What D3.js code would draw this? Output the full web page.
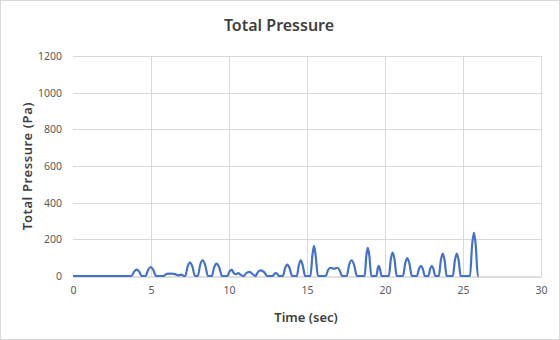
<!DOCTYPE html>
<html><head><meta charset="utf-8">
<script src="https://cdn.jsdelivr.net/npm/d3@7"></script>
<style>body{margin:0;background:#fff}svg{display:block}</style>
</head><body><svg id="c" width="560" height="340"></svg>
<script>
const timeSec = [0,3.75,3.92,4.08,4.24,4.4,4.65,4.82,4.98,5.14,5.32,5.8,6.0,6.3,6.55,6.75,6.95,7.1,7.2,7.35,7.5,7.65,7.82,8.0,8.15,8.31,8.47,8.65,8.9,9.05,9.21,9.37,9.55,9.9,10.03,10.17,10.32,10.45,10.6,10.75,10.95,11.1,11.3,11.5,11.7,11.85,12.05,12.25,12.45,12.8,12.9,13.0,13.1,13.2,13.45,13.6,13.74,13.88,14.05,14.35,14.48,14.6,14.72,14.88,15.22,15.35,15.45,15.55,15.7,16.2,16.35,16.5,16.75,16.95,17.1,17.25,17.55,17.7,17.86,18.02,18.2,18.7,18.8,18.9,19.0,19.12,19.45,19.53,19.6,19.67,19.78,20.25,20.37,20.49,20.61,20.75,21.15,21.3,21.43,21.56,21.72,22.05,22.18,22.3,22.42,22.55,22.78,22.9,23.0,23.1,23.22,23.45,23.58,23.7,23.82,23.95,24.35,24.48,24.6,24.72,24.85,25.45,25.58,25.7,25.82,25.95,26.0];
const pressure = [0,0,24,35,24,0,0,34,49,34,0,0,12,13,10,3,8,0,0,52,73,52,0,0,60,86,60,0,0,48,68,48,0,0,24,35,14,10,16,6,0,15,22,12,0,21,31,21,0,0,11,16,11,0,0,44,62,44,0,0,60,86,60,0,0,115,164,115,0,0,33,45,40,45,30,0,0,60,86,60,0,0,108,153,108,0,0,40,56,40,0,0,90,128,90,0,0,70,98,70,0,0,40,56,40,0,0,40,56,40,0,0,86,122,86,0,0,86,122,86,0,0,165,235,165,0,0];
const yTicks = [0,200,400,600,800,1000,1200];
const xTicks = [0,5,10,15,20,25,30];
const data = timeSec.map((t,i)=>({t,p:pressure[i]}));

const svg = d3.select('#c');
svg.append('rect').attr('x',0.5).attr('y',0.5).attr('width',559).attr('height',339).attr('fill','#fff').attr('stroke','#d9d9d9');
const x = d3.scaleLinear().domain([0,30]).range([73,541]);
const y = d3.scaleLinear().domain([0,1200]).range([276,56]);
const font = "'Noto Sans', sans-serif";

// grid
svg.append('g').selectAll('line').data(yTicks.slice(1)).join('line')
  .attr('x1',73).attr('x2',541).attr('y1',d=>Math.round(y(d))+0.5).attr('y2',d=>Math.round(y(d))+0.5).attr('stroke','#d9d9d9');
svg.append('g').selectAll('line').data(xTicks.slice(1)).join('line')
  .attr('y1',56).attr('y2',276).attr('x1',d=>Math.round(x(d))+0.5).attr('x2',d=>Math.round(x(d))+0.5).attr('stroke','#d9d9d9');

// axes
const xa = svg.append('g').attr('transform','translate(0,276.5)').call(d3.axisBottom(x).tickValues(xTicks).tickFormat(d3.format('d')).tickSize(0).tickPadding(10));
xa.select('.domain').attr('stroke','#bfbfbf');
xa.selectAll('text').attr('fill','#595959').style('font-family',font).style('font-size','10.5px');
const ya = svg.append('g').attr('transform','translate(73,0)').call(d3.axisLeft(y).tickValues(yTicks).tickFormat(d3.format('d')).tickSize(0).tickPadding(11));
ya.select('.domain').remove();
ya.selectAll('text').attr('fill','#595959').style('font-family',font).style('font-size','10.5px');

// line
svg.append('path').datum(data).attr('fill','none').attr('stroke','#4472C4').attr('stroke-width',2.2)
  .attr('stroke-linejoin','round')
  .attr('d',d3.line().x(d=>x(d.t)).y(d=>y(d.p)).curve(d3.curveMonotoneX));

// titles
svg.append('text').attr('x',279).attr('y',31).attr('text-anchor','middle').attr('fill','#404040')
  .style('font-family',font).style('font-size','16px').style('font-weight','600').text('Total Pressure');
svg.append('text').attr('x',306).attr('y',322).attr('text-anchor','middle').attr('fill','#404040')
  .style('font-family',font).style('font-size','13px').style('font-weight','600').text('Time (sec)');
svg.append('text').attr('transform','translate(32,166) rotate(-90)').attr('text-anchor','middle').attr('fill','#404040')
  .style('font-family',font).style('font-size','13px').style('font-weight','600').style('letter-spacing','0.6px').text('Total Pressure (Pa)');
</script></body></html>
